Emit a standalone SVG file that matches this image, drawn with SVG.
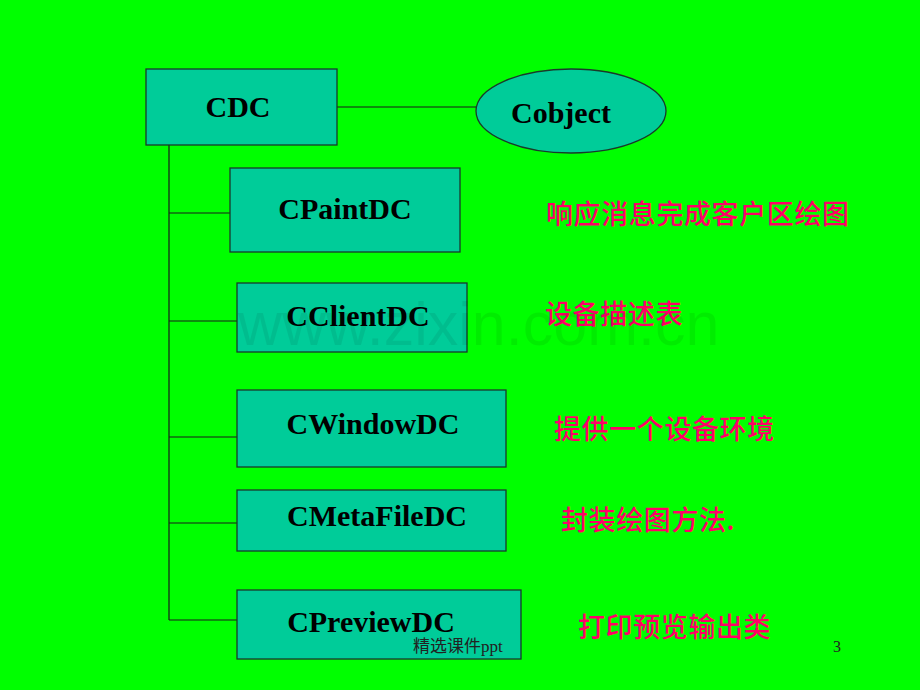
<svg xmlns="http://www.w3.org/2000/svg" width="920" height="690" viewBox="0 0 920 690">
<style>
.box{fill:#00CC99;stroke:#1a3a2a;stroke-width:1.3}
.lbl{font-family:"Liberation Serif","Times New Roman",serif;font-weight:bold;font-size:30px;fill:#000;text-anchor:middle}
.cn{font-family:"Noto Sans CJK SC","Noto Sans CJK JP",sans-serif;font-size:27px;font-weight:500;fill:#FF0066;letter-spacing:0.6px}
.ln{stroke:#1a1a1a;stroke-width:1.2;fill:none}
</style>
<rect width="920" height="690" fill="#00FF00"/>
<g id="connectors">
<line class="ln" x1="337" y1="107" x2="476" y2="107"/>
<line class="ln" x1="169" y1="145" x2="169" y2="620"/>
<line class="ln" x1="169" y1="213" x2="230" y2="213"/>
<line class="ln" x1="169" y1="321" x2="237" y2="321"/>
<line class="ln" x1="169" y1="437" x2="237" y2="437"/>
<line class="ln" x1="169" y1="523" x2="237" y2="523"/>
<line class="ln" x1="169" y1="620" x2="237" y2="620"/>
</g>
<g id="cdc"><rect class="box" x="146" y="69" width="191" height="76"/><text class="lbl" x="238" y="117">CDC</text></g>
<g id="cobject"><ellipse class="box" cx="571" cy="111" rx="95" ry="42"/><text class="lbl" x="561" y="123">Cobject</text></g>
<g id="cpaintdc"><rect class="box" x="230" y="168" width="230" height="84"/><text class="lbl" x="345" y="219">CPaintDC</text></g>
<g id="cclientdc"><rect class="box" x="237" y="283" width="230" height="69"/><text class="lbl" x="358" y="326">CClientDC</text></g>
<g id="cwindowdc"><rect class="box" x="237" y="390" width="269" height="77"/><text class="lbl" x="373" y="434">CWindowDC</text></g>
<g id="cmetafiledc"><rect class="box" x="237" y="490" width="269" height="61"/><text class="lbl" x="377" y="526">CMetaFileDC</text></g>
<g id="cpreviewdc"><rect class="box" x="237" y="590" width="284" height="69"/><text class="lbl" x="371" y="632">CPreviewDC</text></g>
<g id="notes">
<text class="cn" x="546" y="224">响应消息完成客户区绘图</text>
<text class="cn" x="545" y="324">设备描述表</text>
<text class="cn" x="554" y="439">提供一个设备环境</text>
<text class="cn" x="561" y="530">封装绘图方法.</text>
<text class="cn" x="578" y="637">打印预览输出类</text>
</g>
<text x="238" y="345" font-family="Liberation Sans,Arial,sans-serif" font-size="61" fill="#000" fill-opacity="0.07">www.zixin.com.cn</text>
<text x="413" y="652" font-family="Liberation Serif,Noto Sans CJK SC,serif" font-size="17" fill="#222">精选课件ppt</text>
<text x="833" y="652" font-family="Liberation Serif,serif" font-size="16" fill="#222">3</text>
</svg>
